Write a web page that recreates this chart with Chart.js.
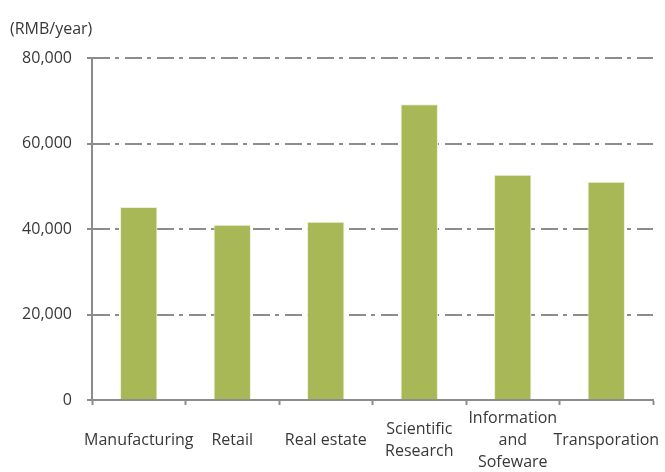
<!DOCTYPE html>
<html>
<head>
<meta charset="utf-8">
<script src="https://cdn.jsdelivr.net/npm/chart.js@4/dist/chart.umd.min.js"></script>
<style>
  html, body { margin: 0; padding: 0; background: #fff; }
  #wrap { width: 665px; height: 472px; }
</style>
</head>
<body>
<div id="wrap"><canvas id="salaryChart"></canvas></div>
<script>
const categories = ['Manufacturing', 'Retail', 'Real estate', ['Scientific', 'Research'], ['Information', 'and', 'Sofeware'], 'Transporation'];
const salaries = [45200, 41000, 41700, 69200, 52700, 51100];
const yMax = 80000;
const yStep = 20000;
const unitLabel = '(RMB/year)';

const textFont = { family: '"Open Sans", "Noto Sans", sans-serif', size: 16, weight: 'normal' };
const textColor = '#383838';
const axisGray = '#8c8c8c';

new Chart(document.getElementById('salaryChart').getContext('2d'), {
    type: 'bar',
    data: {
        labels: categories,
        datasets: [{
            data: salaries,
            backgroundColor: '#a8b857',
            borderColor: '#eef0d6',
            borderWidth: 1,
            barPercentage: 0.4,
            categoryPercentage: 1
        }]
    },
    options: {
        responsive: true,
        maintainAspectRatio: false,
        animation: false,
        layout: { padding: { left: 10, right: 12, top: 0, bottom: 0 } },
        plugins: {
            legend: { display: false },
            tooltip: { enabled: false },
            title: {
                display: true,
                text: unitLabel,
                align: 'start',
                color: textColor,
                font: textFont,
                padding: { top: 20, bottom: 19 }
            }
        },
        scales: {
            x: {
                afterFit: function (scale) {
                    scale.height = 72;
                    scale.paddingLeft = 0;
                    scale.paddingRight = 0;
                },
                grid: {
                    offset: true,
                    drawOnChartArea: false,
                    drawTicks: true,
                    tickLength: 5,
                    tickColor: axisGray,
                    tickWidth: 2
                },
                border: { color: axisGray, width: 2 },
                ticks: {
                    color: textColor,
                    font: Object.assign({ lineHeight: 1.38 }, textFont),
                    padding: 13,
                    maxRotation: 0,
                    autoSkip: false,
                    crossAlign: 'center'
                }
            },
            y: {
                min: 0,
                max: yMax,
                afterFit: function (scale) { scale.width = 82; },
                grid: {
                    color: axisGray,
                    lineWidth: 2,
                    borderDash: [17, 5, 4, 6],
                    tickLength: 5,
                    tickColor: axisGray,
                    tickWidth: 2
                },
                border: { color: axisGray, width: 2, dash: [17, 5, 4, 6] },
                ticks: {
                    stepSize: yStep,
                    color: textColor,
                    font: textFont,
                    padding: 15,
                    callback: function (value) {
                        return value.toLocaleString('en-US');
                    }
                }
            }
        }
    }
});
</script>
</body>
</html>
